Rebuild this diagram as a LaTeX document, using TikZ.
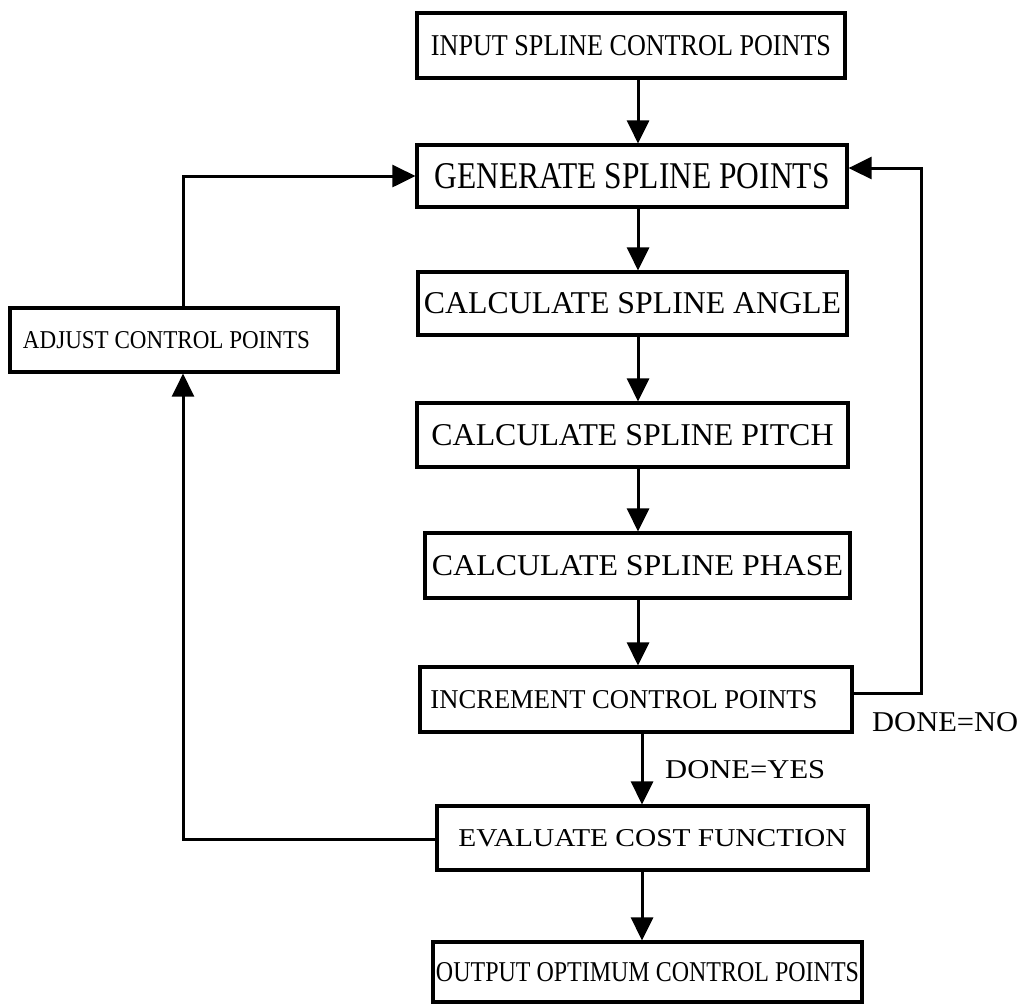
\documentclass[tikz,border=0pt]{standalone}
\usepackage{fontspec}
\setmainfont{Liberation Serif}
\usepackage{graphicx}
\usetikzlibrary{arrows.meta}
\newcommand{\fittext}[3]{\resizebox{#1pt}{#2pt}{#3}}
\begin{document}
\begin{tikzpicture}[x=1pt,y=-1pt,
  box/.style={draw=black, line width=3.2pt, inner sep=0pt, fill=white},
  arr/.style={draw=black, line width=3pt, -{Triangle[length=23pt,width=22pt]}},
  lbl/.style={inner sep=0pt, anchor=base west}]
\useasboundingbox (0,0) rectangle (1027,1005);
\fill[white] (0,0) rectangle (1027,1005);

\node[box, minimum width=428pt, minimum height=65pt] (b1) at (631,45.5) {\fittext{400}{20}{INPUT SPLINE CONTROL POINTS}};
\node[box, minimum width=430pt, minimum height=62pt] (b2) at (632,176) {\fittext{395}{25}{GENERATE SPLINE POINTS}};
\node[box, minimum width=429pt, minimum height=63pt] (b3) at (632.5,303.5) {\fittext{417}{21}{CALCULATE SPLINE ANGLE}};
\node[box, minimum width=431pt, minimum height=64pt] (b4) at (632.5,435) {\fittext{402}{21}{CALCULATE SPLINE PITCH}};
\node[box, minimum width=425pt, minimum height=65pt] (b5) at (637.5,565.5) {\fittext{411}{20}{CALCULATE SPLINE PHASE}};
\node[box, minimum width=432pt, minimum height=65pt] (b6) at (636,699.5) {\fittext{387}{18}{INCREMENT CONTROL POINTS}\hspace*{24pt}};
\node[box, minimum width=431pt, minimum height=64pt] (b7) at (652.5,838) {\fittext{388}{17}{EVALUATE COST FUNCTION}};
\node[box, minimum width=429pt, minimum height=60pt] (b8) at (647.5,972) {\fittext{423}{19}{OUTPUT OPTIMUM CONTROL POINTS}};
\node[box, minimum width=328pt, minimum height=64pt] (adj) at (174,340) {\fittext{287}{17}{ADJUST CONTROL POINTS}\hspace*{15pt}};

\node[lbl] (yes) at (665,778) {\fittext{160}{18}{DONE=YES}};
\node[lbl] (no) at (872,731) {\fittext{146}{19}{DONE=NO}};

\coordinate (ax) at (638,0);
\coordinate (bx) at (642,0);
\draw[arr] (b1.south -| ax) -- (b2.north -| ax);
\draw[arr] (b2.south -| ax) -- (b3.north -| ax);
\draw[arr] (b3.south -| ax) -- (b4.north -| ax);
\draw[arr] (b4.south -| ax) -- (b5.north -| ax);
\draw[arr] (b5.south -| ax) -- (b6.north -| ax);
\draw[arr] (b6.south -| bx) -- (b7.north -| bx);
\draw[arr] (b7.south -| bx) -- (b8.north -| bx);

\coordinate (r1) at (921,693);
\coordinate (r2) at (921,168);
\draw[arr, rounded corners=0pt] (b6.east |- r1) -- (r1) -- (r2) -- (b2.east |- r2);

\coordinate (l1) at (183,839);
\coordinate (l2) at (183,176);
\draw[arr] (b7.west |- l1) -- (l1) -- (adj.south -| l1);
\draw[arr] (adj.north -| l2) -- (l2) -- (b2.west |- l2);
\end{tikzpicture}
\end{document}
